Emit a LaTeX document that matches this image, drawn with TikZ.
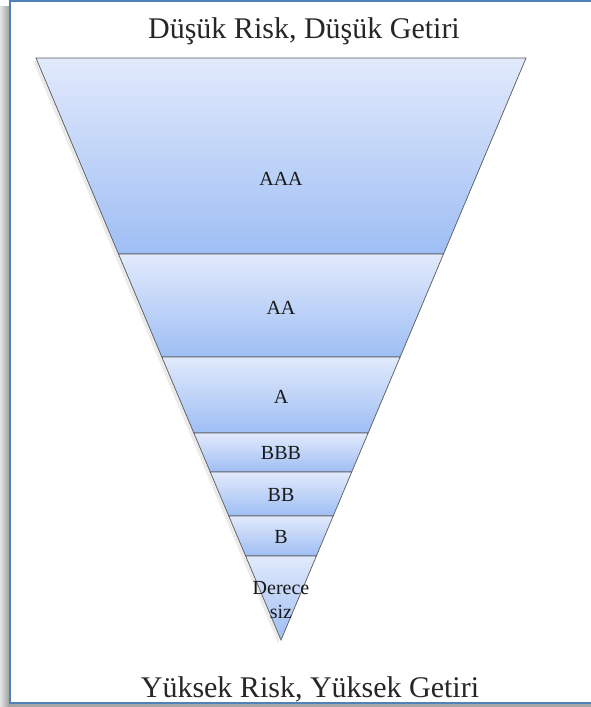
\documentclass[tikz,border=0pt]{standalone}
\usepackage{fontspec}
\setmainfont{Liberation Serif}
\definecolor{cerceve}{RGB}{79,129,189}
\definecolor{segust}{RGB}{226,234,252}
\definecolor{segalt}{RGB}{158,190,244}
\begin{document}
\begin{tikzpicture}[x=1pt, y=-1pt,
    katman/.style={draw=black!65, line width=0.7pt, top color=segust, bottom color=segalt},
    etiket/.style={font=\fontsize{20}{24}\selectfont, text=black!90, align=center},
    baslik/.style={font=\fontsize{30}{32}\selectfont, text=black!85}]
  \useasboundingbox (0,0) rectangle (591,707);

  % cerceve ve golge
  \shade[left color=black!10, right color=black!40] (0,6) rectangle (10,707);
  \fill[black!35] (10,703) rectangle (591,707);
  \fill[white] (10,1) rectangle (600,703);
  \draw[cerceve, line width=2pt] (10,1) rectangle (600,703);

  % katmanlar
  \foreach \ust/\alt/\yazi/\ty [count=\i] in {58/254/AAA/179, 254/357/AA/308,
      357/433/A/397, 433/472/BBB/453, 472/516/BB/495, 516/556/B/537}{
    \pgfmathsetmacro\wu{0.421*(640-\ust)}
    \pgfmathsetmacro\wa{0.421*(640-\alt)}
    \fill[black!8] ({278-\wu},{\ust+3}) -- ({278+\wu},{\ust+3}) -- ({278+\wa},{\alt+3}) -- ({278-\wa},{\alt+3}) -- cycle;
    \shade[katman] ({281-\wu},\ust) -- ({281+\wu},\ust) -- ({281+\wa},\alt) -- ({281-\wa},\alt) -- cycle;
    \node[etiket] (k\i) at (281,\ty) {\yazi};
  }

  % derecesiz
  \pgfmathsetmacro\wsiz{0.421*(640-556)}
  \fill[black!8] ({278-\wsiz},559) -- ({278+\wsiz},559) -- (278,643) -- cycle;
  \shade[katman] ({281-\wsiz},556) -- ({281+\wsiz},556) -- (281,640) -- cycle;
  \node[etiket] (k7) at (281,600) {Derece\\siz};

  % basliklar
  \node[baslik, anchor=base] (ust) at (304,38) {Düşük Risk, Düşük Getiri};
  \node[baslik, anchor=base] (alt) at (310,697) {Yüksek Risk, Yüksek Getiri};
\end{tikzpicture}
\end{document}
